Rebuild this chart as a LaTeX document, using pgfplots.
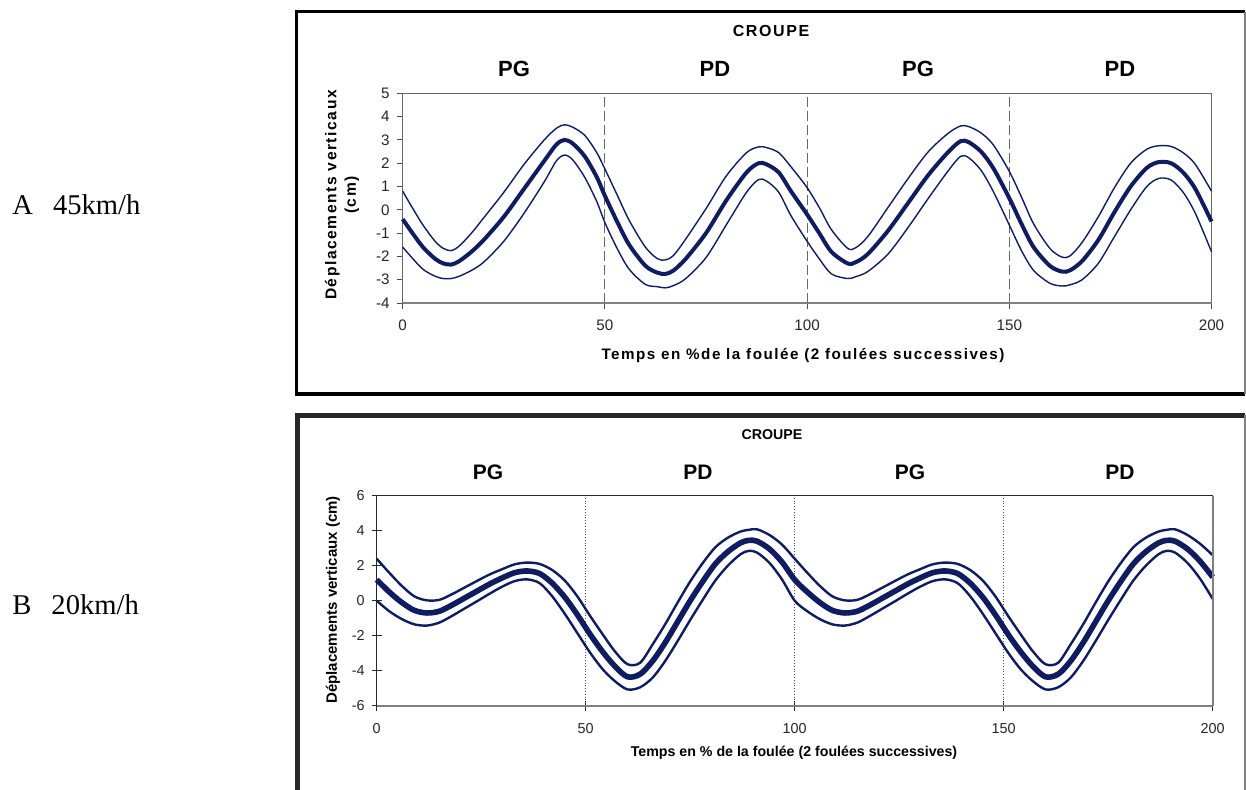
\documentclass[border=0pt]{standalone}
\usepackage{fontspec}
\setmainfont{Liberation Sans}
\newfontfamily\timesfont{Liberation Serif}
\newfontfamily\spaced[LetterSpace=10]{Liberation Sans}
\usepackage{pgfplots}
\pgfplotsset{compat=1.18}
\usepackage{pgfplotstable}
\definecolor{navy}{RGB}{16,28,96}

\pgfplotstableread{
x m u l
0 -0.4 0.8 -1.6
2 -0.9 0.2 -2.0
5 -1.6 -0.65 -2.55
8 -2.1 -1.35 -2.85
10 -2.3 -1.65 -2.95
12 -2.35 -1.75 -2.95
14 -2.2 -1.55 -2.85
17 -1.8 -1.0 -2.6
20 -1.3 -0.35 -2.25
25 -0.3 0.75 -1.35
30 0.9 1.95 -0.15
35 2.1 3.0 1.2
38 2.8 3.5 2.1
40 3.0 3.65 2.35
42 2.85 3.55 2.15
45 2.3 3.2 1.4
48 1.4 2.45 0.35
50 0.6 1.75 -0.55
53 -0.5 0.65 -1.65
56 -1.5 -0.45 -2.55
60 -2.4 -1.6 -3.2
63 -2.7 -2.1 -3.3
65 -2.75 -2.15 -3.35
67 -2.6 -1.95 -3.25
70 -2.1 -1.25 -2.95
75 -1.0 0.05 -2.05
80 0.4 1.45 -0.65
85 1.6 2.45 0.75
88 2.0 2.7 1.3
90 1.95 2.67 1.23
93 1.6 2.45 0.75
96 0.8 1.85 -0.25
100 -0.2 0.95 -1.35
103 -1.0 0.1 -2.1
106 -1.8 -0.85 -2.75
110 -2.3 -1.65 -2.95
112 -2.25 -1.63 -2.87
115 -1.9 -1.15 -2.65
120 -0.9 0.1 -1.9
125 0.3 1.35 -0.75
130 1.5 2.5 0.5
135 2.5 3.3 1.7
138 2.95 3.6 2.3
140 2.9 3.57 2.23
143 2.5 3.3 1.7
146 1.8 2.8 0.8
150 0.5 1.65 -0.65
153 -0.6 0.55 -1.75
156 -1.6 -0.6 -2.6
160 -2.4 -1.65 -3.15
163 -2.65 -2.03 -3.27
165 -2.6 -1.98 -3.22
168 -2.2 -1.4 -3.0
172 -1.3 -0.3 -2.3
176 -0.1 0.95 -1.15
180 1.0 2.0 0.0
184 1.8 2.6 1.0
187 2.05 2.75 1.35
190 2.0 2.72 1.28
193 1.6 2.45 0.75
196 0.9 1.95 -0.15
200 -0.5 0.8 -1.8
}\dataA

\pgfplotstableread{
x m u l
0 1.2 2.4 0.0
3 0.5 1.6 -0.6
6 -0.1 0.85 -1.05
9 -0.55 0.25 -1.35
12 -0.7 0.02 -1.42
15 -0.6 0.05 -1.25
18 -0.25 0.37 -0.87
21 0.15 0.75 -0.45
24 0.55 1.13 -0.03
27 0.95 1.5 0.4
30 1.3 1.8 0.8
33 1.6 2.08 1.12
36 1.7 2.18 1.22
39 1.55 2.1 1.0
42 1.0 1.75 0.25
45 0.2 1.15 -0.75
48 -0.8 0.25 -1.85
51 -1.9 -0.85 -2.95
54 -2.9 -1.9 -3.9
57 -3.75 -2.9 -4.6
60 -4.35 -3.63 -5.07
63 -4.2 -3.55 -4.95
66 -3.45 -2.5 -4.4
69 -2.4 -1.35 -3.45
72 -1.2 -0.1 -2.3
75 0.0 1.1 -1.1
78 1.1 2.15 0.05
81 2.1 3.05 1.15
84 2.8 3.6 2.0
87 3.3 3.95 2.65
89 3.45 4.05 2.85
91 3.4 4.08 2.75
94 2.95 3.75 2.15
97 2.2 3.2 1.2
100 1.2 2.4 0.0
103 0.5 1.6 -0.6
106 -0.1 0.85 -1.05
109 -0.55 0.25 -1.35
112 -0.7 0.02 -1.42
115 -0.6 0.05 -1.25
118 -0.25 0.37 -0.87
121 0.15 0.75 -0.45
124 0.55 1.13 -0.03
127 0.95 1.5 0.4
130 1.3 1.8 0.8
133 1.6 2.08 1.12
136 1.7 2.18 1.22
139 1.55 2.1 1.0
142 1.0 1.75 0.25
145 0.2 1.15 -0.75
148 -0.8 0.25 -1.85
151 -1.9 -0.85 -2.95
154 -2.9 -1.9 -3.9
157 -3.75 -2.9 -4.6
160 -4.35 -3.63 -5.07
163 -4.2 -3.55 -4.95
166 -3.45 -2.5 -4.4
169 -2.4 -1.35 -3.45
172 -1.2 -0.1 -2.3
175 0.0 1.1 -1.1
178 1.1 2.15 0.05
181 2.1 3.05 1.15
184 2.8 3.6 2.0
187 3.3 3.95 2.65
189 3.45 4.05 2.85
191 3.4 4.08 2.75
194 2.95 3.75 2.15
197 2.25 3.25 1.25
200 1.35 2.6 0.1
}\dataB

\begin{document}
\begin{tikzpicture}[x=1pt,y=1pt]
\useasboundingbox (0,0) rectangle (623,394.5);
% frames
\draw[black, line width=1.7pt] (622.5,388.7) -- (148.2,388.7) -- (148.2,197.6) -- (622.5,197.6);
\draw[gray, line width=0.6pt] (622.5,388.7) -- (622.5,197.6);
\draw[black!85, line width=2.5pt] (622.5,186.8) -- (148.5,186.8) -- (148.5,-5);
\draw[gray, line width=0.6pt] (622.5,186.8) -- (622.5,-5);

% side labels
\node[anchor=base west, inner sep=0pt, font=\timesfont\fontsize{14.3}{16}\selectfont] at (6,287.5) {A\hspace{10pt}45km/h};
\node[anchor=base west, inner sep=0pt, font=\timesfont\fontsize{14.3}{16}\selectfont] at (6,87.5) {B\hspace{10pt}20km/h};

% panel A texts
\node[font=\spaced\bfseries\fontsize{8}{9}\selectfont] at (385.5,379) {CROUPE};
\foreach \xx/\tt in {257/PG, 357.5/PD, 459/PG, 560/PD}
  \node[font=\bfseries\fontsize{11}{13}\selectfont] at (\xx,360) {\tt};
\node[rotate=90, align=center, font=\spaced\bfseries\fontsize{7.8}{9.8}\selectfont] at (171,297) {Déplacements verticaux\\(cm)};
\node[font=\spaced\bfseries\fontsize{7.6}{9}\selectfont] at (401.5,217) {Temps en \%de la foulée (2 foulées successives)};

% panel B texts
\node[font=\bfseries\fontsize{7.1}{9}\selectfont] at (386,177) {CROUPE};
\foreach \xx/\tt in {244/PG, 349/PD, 455/PG, 560/PD}
  \node[font=\bfseries\fontsize{10.5}{13}\selectfont] at (\xx,158.5) {\tt};
\node[rotate=90, font=\bfseries\fontsize{7.5}{9}\selectfont] at (166.5,94.5) {Déplacements verticaux (cm)};
\node[font=\bfseries\fontsize{7.1}{9}\selectfont] at (397,18) {Temps en \% de la foulée (2 foulées successives)};

\begin{axis}[
  at={(201.35pt,243pt)}, anchor=south west,
  scale only axis, width=404.4pt, height=104.85pt,
  xmin=0, xmax=200, ymin=-4, ymax=5,
  xtick={0,50,100,150,200}, ytick={-4,-3,...,5},
  tick align=outside, xtick pos=bottom, ytick pos=left,
  major tick length=3pt,
  axis line style={black!60, line width=0.5pt},
  every tick/.style={black!70, line width=0.5pt},
  tick label style={font=\fontsize{7.6}{9}\selectfont, text=black!85},
  /pgf/number format/assume math mode=true,
  xticklabel style={yshift=-2pt},
  clip=false,
]
\draw[black!60, line width=0.5pt, dash pattern=on 5pt off 2pt] (axis cs:50,-4) -- (axis cs:50,5);
\draw[black!60, line width=0.5pt, dash pattern=on 5pt off 2pt] (axis cs:100,-4) -- (axis cs:100,5);
\draw[black!60, line width=0.5pt, dash pattern=on 5pt off 2pt] (axis cs:150,-4) -- (axis cs:150,5);
\addplot[navy, line width=0.7pt, smooth, no marks] table[x=x, y=u] {\dataA};
\addplot[navy, line width=0.7pt, smooth, no marks] table[x=x, y=l] {\dataA};
\addplot[navy, line width=2pt, smooth, no marks] table[x=x, y=m] {\dataA};
\draw[gray, line width=1pt] (axis cs:0,-4) -- (axis cs:200,-4);
\end{axis}

\begin{axis}[
  at={(188.35pt,41.65pt)}, anchor=south west,
  scale only axis, width=418pt, height=105pt,
  xmin=0, xmax=200, ymin=-6, ymax=6,
  xtick={0,50,100,150,200}, ytick={-6,-4,...,6},
  tick align=center, xtick pos=bottom, ytick pos=left,
  major tick length=5pt,
  axis line style={black!85, line width=0.5pt},
  every tick/.style={black!85, line width=0.5pt},
  tick label style={font=\fontsize{7.2}{9}\selectfont, text=black!85},
  /pgf/number format/assume math mode=true,
  xticklabel style={yshift=-3pt},
  clip=false,
]
\draw[black!70, line width=0.4pt, densely dotted] (axis cs:50,-6) -- (axis cs:50,6);
\draw[black!70, line width=0.4pt, densely dotted] (axis cs:100,-6) -- (axis cs:100,6);
\draw[black!70, line width=0.4pt, densely dotted] (axis cs:150,-6) -- (axis cs:150,6);
\addplot[navy, line width=1.2pt, smooth, no marks] table[x=x, y=u] {\dataB};
\addplot[navy, line width=1.2pt, smooth, no marks] table[x=x, y=l] {\dataB};
\addplot[navy, line width=2.8pt, smooth, no marks] table[x=x, y=m] {\dataB};
\draw[gray, line width=1pt] (axis cs:0,-6) -- (axis cs:200,-6);
\draw[gray, line width=0.8pt] (axis cs:200,-6) -- (axis cs:200,6);
\end{axis}
\end{tikzpicture}
\end{document}
